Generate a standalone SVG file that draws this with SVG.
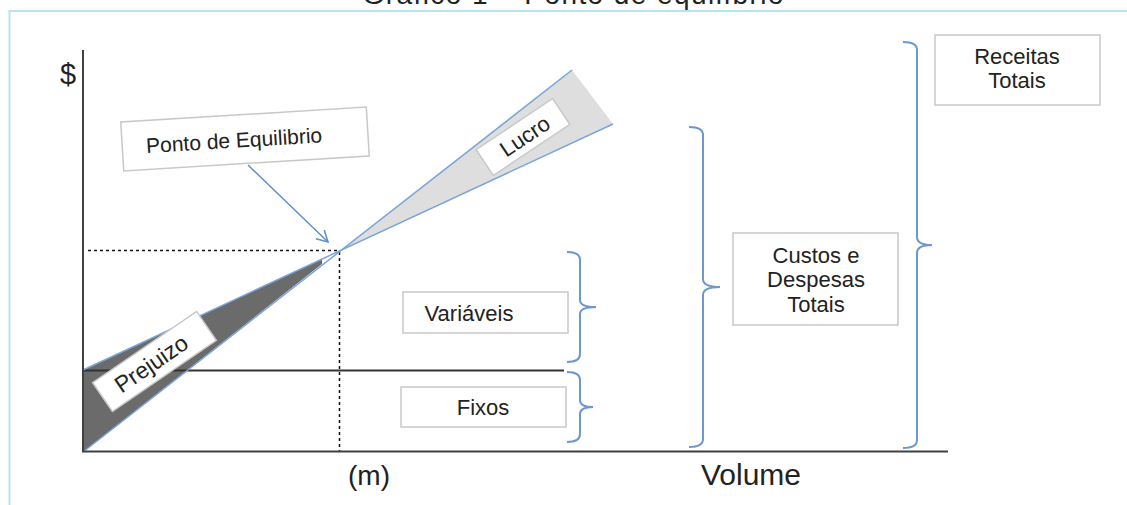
<svg xmlns="http://www.w3.org/2000/svg" width="1127" height="505" viewBox="0 0 1127 505">
<style>
.t{font-family:"Liberation Sans",Arial,sans-serif;fill:#222}
.box{fill:#fff;stroke:#c8c8c8;stroke-width:1.5}
.brace{fill:none;stroke:#6d97cf;stroke-width:2}
.blue{fill:none;stroke:#7aa5d8;stroke-width:1.5}
.axis{stroke:#404040;stroke-width:2;fill:none}
.dot{stroke:#111;stroke-width:1.5;stroke-dasharray:3 3;fill:none}
</style>
<defs>
<marker id="arr" markerWidth="14" markerHeight="14" refX="12" refY="7" orient="auto" markerUnits="userSpaceOnUse">
<path d="M1,1 L12,7 L1,13" fill="none" stroke="#5b8fd0" stroke-width="1.5"/>
</marker>
</defs>
<rect width="1127" height="505" fill="#fff"/>
<text class="t" x="573" y="4" font-size="28" text-anchor="middle" textLength="421">Gráfico 1 – Ponto de equilíbrio</text>
<rect x="9.5" y="11" width="1200" height="600" fill="none" stroke="#b5e3f2" stroke-width="2"/>

<g id="chart">
<polygon points="340,251 572,70 613,124" fill="#dedede"/>
<polygon points="83,370 322,259 322,264 83,452" fill="#6b6b6b"/>
<line class="dot" x1="88" y1="250.5" x2="340" y2="250.5"/>
<line class="dot" x1="339.5" y1="252" x2="339.5" y2="451"/>
<line x1="83" y1="370.5" x2="564" y2="370.5" stroke="#333" stroke-width="1.8"/>
<line class="blue" x1="83" y1="452" x2="572" y2="70"/>
<line class="blue" x1="83" y1="370" x2="613" y2="124"/>
<line class="axis" x1="83" y1="50" x2="83" y2="452"/>
<line class="axis" x1="82" y1="451.5" x2="948" y2="451.5"/>
<text class="t" x="60" y="84" font-size="29">$</text>
<text class="t" x="369" y="485" font-size="28" text-anchor="middle">(m)</text>
<text class="t" x="751" y="485" font-size="30" text-anchor="middle">Volume</text>
</g>

<g id="lucro">
<g transform="translate(523,137) rotate(-33.7)">
<rect class="box" x="-46" y="-15.5" width="92" height="31"/>
<text class="t" x="2" y="8" font-size="22" text-anchor="middle">Lucro</text>
</g>
</g>

<g id="prejuizo">
<g transform="translate(154.5,361.5) rotate(-34.4)">
<rect class="box" x="-63" y="-17.5" width="126" height="35"/>
<text class="t" x="-4" y="8" font-size="23" text-anchor="middle">Prejuizo</text>
</g>
</g>

<g id="ponto">
<g transform="translate(245,139) rotate(-3.5)">
<rect class="box" x="-123" y="-24.5" width="246" height="49"/>
<text class="t" x="-11" y="8" font-size="21" text-anchor="middle">Ponto de Equilibrio</text>
</g>
</g>

<g id="variaveis">
<rect class="box" x="403" y="292" width="165" height="41"/>
<text class="t" x="469" y="321" font-size="22" text-anchor="middle">Variáveis</text>
</g>

<g id="fixos">
<rect class="box" x="401" y="387" width="165" height="40"/>
<text class="t" x="483" y="415" font-size="22" text-anchor="middle">Fixos</text>
</g>

<g id="custos">
<rect class="box" x="733" y="233" width="165" height="92"/>
<text class="t" x="816" y="263" font-size="22" text-anchor="middle">Custos e</text>
<text class="t" x="816" y="287" font-size="22" text-anchor="middle">Despesas</text>
<text class="t" x="816" y="312" font-size="22" text-anchor="middle">Totais</text>
</g>

<g id="receitas">
<rect class="box" x="935" y="35" width="165" height="70"/>
<text class="t" x="1017" y="64" font-size="22" text-anchor="middle">Receitas</text>
<text class="t" x="1017" y="88" font-size="22" text-anchor="middle">Totais</text>
</g>

<g id="connectors">
<path class="brace" d="M567,252 Q580,252 580,260 L580,300 Q580,307 596,307 Q580,307 580,314 L580,354 Q580,362 567,362"/>
<path class="brace" d="M567,372 Q580,372 580,380 L580,400 Q580,407 593,407 Q580,407 580,414 L580,434 Q580,442 567,442"/>
<path class="brace" d="M689,127 Q703,127 703,135 L703,279 Q703,287 720,287 Q703,287 703,295 L703,439 Q703,447 689,447"/>
<path class="brace" d="M903,42 Q917,42 917,50 L917,237 Q917,245 932,245 Q917,245 917,253 L917,440 Q917,448 903,448"/>
<line x1="248" y1="165" x2="328" y2="242" stroke="#5b8fd0" stroke-width="1.5" marker-end="url(#arr)"/>
</g>
</svg>
